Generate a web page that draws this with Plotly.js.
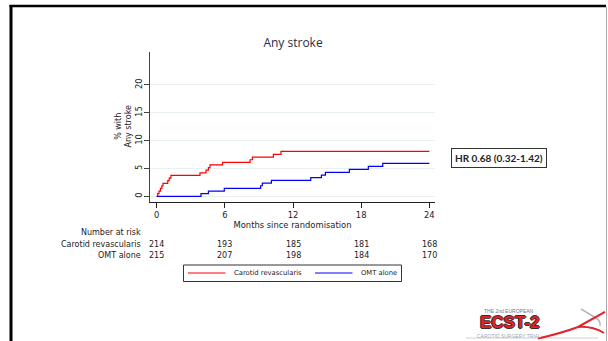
<!DOCTYPE html>
<html>
<head>
<meta charset="utf-8">
<script src="https://cdn.plot.ly/plotly-3.0.1.min.js"></script>
<style>
html,body{margin:0;padding:0;background:#fff;}
#chart{width:608px;height:341px;}
</style>
</head>
<body>
<div id="chart"></div>
<script>
// ---- data ----
const seriesNames = ["Carotid revascularis", "OMT alone"];
const seriesColors = ["#ff0000", "#0000ff"];
const revascTimes  = [0, 0.09, 0.2, 0.33, 0.45, 0.55, 0.97, 1.1, 1.25, 3.81, 4.34, 4.55, 4.69, 5.8, 8.22, 8.42, 10.27, 10.94, 24];
const revascValues = [0, 0.47, 0.94, 1.41, 1.88, 2.34, 2.81, 3.28, 3.75, 4.22, 4.69, 5.16, 5.63, 6.1, 6.57, 7.04, 7.55, 8.07, 8.07];
const omtTimes  = [0, 3.9, 4.55, 5.95, 9.15, 9.3, 10.1, 13.56, 14.5, 14.85, 16.96, 18.63, 19.9, 24];
const omtValues = [0, 0.47, 0.94, 1.42, 1.9, 2.38, 2.86, 3.34, 3.82, 4.3, 4.84, 5.38, 5.93, 5.93];
const xTicks = [0, 6, 12, 18, 24];
const yTicks = [0, 5, 10, 15, 20];
const riskTimes = [0, 6, 12, 18, 24];
const revascAtRisk = [214, 193, 185, 181, 168];
const omtAtRisk = [215, 207, 198, 184, 170];
const hrText = "HR 0.68 (0.32-1.42)";

// ---- layout helpers (pixel -> paper) ----
const W = 608, H = 341, L = 150, R = 173, T = 52, B = 139;
const pw = W - L - R, ph = H - T - B;
const px = x => (x - L) / pw;
const py = y => (H - B - y) / ph;
const P = (x, y) => px(x).toFixed(4) + "," + py(y).toFixed(4);

const FONT = "DejaVu Sans, sans-serif";

const traces = [
  {x: revascTimes, y: revascValues, name: seriesNames[0], type: "scatter", mode: "lines",
   line: {color: seriesColors[0], width: 1.2, shape: "hv"}, showlegend: false},
  {x: omtTimes, y: omtValues, name: seriesNames[1], type: "scatter", mode: "lines",
   line: {color: seriesColors[1], width: 1.2, shape: "hv"}, showlegend: false}
];

const annotations = [];
// y-axis title (two lines, rotated)
annotations.push({xref: "paper", yref: "paper", x: px(122.5), y: 0.5, xanchor: "center", yanchor: "middle", textangle: -90,
  text: "% with<br>Any stroke", showarrow: false, font: {family: FONT, size: 8, color: "#222"}});
annotations.push({xref: "paper", yref: "paper", x: px(142.5), y: py(233), xanchor: "right", yanchor: "middle",
  text: "Number at risk", showarrow: false, font: {family: FONT, size: 8, color: "#222"}});
annotations.push({xref: "paper", yref: "paper", x: px(142.5), y: py(244.5), xanchor: "right", yanchor: "middle",
  text: seriesNames[0], showarrow: false, font: {family: FONT, size: 8, color: "#222"}});
annotations.push({xref: "paper", yref: "paper", x: px(142.5), y: py(256), xanchor: "right", yanchor: "middle",
  text: seriesNames[1], showarrow: false, font: {family: FONT, size: 8, color: "#222"}});
riskTimes.forEach((t, i) => {
  annotations.push({xref: "x", yref: "paper", x: t, y: py(244.5), xanchor: "center", yanchor: "middle",
    text: String(revascAtRisk[i]), showarrow: false, font: {family: FONT, size: 8, color: "#222"}});
  annotations.push({xref: "x", yref: "paper", x: t, y: py(256), xanchor: "center", yanchor: "middle",
    text: String(omtAtRisk[i]), showarrow: false, font: {family: FONT, size: 8, color: "#222"}});
});
// legend texts
annotations.push({xref: "paper", yref: "paper", x: px(231.5), y: py(273.2), xanchor: "left", yanchor: "middle",
  text: seriesNames[0], showarrow: false, font: {family: FONT, size: 6.8, color: "#222"}});
annotations.push({xref: "paper", yref: "paper", x: px(358.5), y: py(273.2), xanchor: "left", yanchor: "middle",
  text: seriesNames[1], showarrow: false, font: {family: FONT, size: 6.8, color: "#222"}});
// HR box
annotations.push({xref: "paper", yref: "paper", x: px(498.5), y: py(158), xanchor: "center", yanchor: "middle",
  text: hrText, showarrow: false, bordercolor: "#333", borderwidth: 1, borderpad: 3, bgcolor: "#fff",
  font: {family: "Lato, sans-serif", size: 10, color: "#222", weight: "bold"}});
// logo texts
annotations.push({xref: "paper", yref: "paper", x: px(509), y: py(310.5), xanchor: "center", yanchor: "middle",
  text: "THE 2nd EUROPEAN", showarrow: false, font: {family: "Liberation Sans, sans-serif", size: 5, color: "#6a7898"}});
annotations.push({xref: "paper", yref: "paper", x: px(509.5), y: py(322.5), xanchor: "center", yanchor: "middle",
  text: "ECST-2", showarrow: false,
  font: {family: "Liberation Sans, sans-serif", size: 17, color: "#e3222b", weight: "bold",
         shadow: "1px 0 0 #3a2a2a, -1px 0 0 #3a2a2a, 0 1px 0 #3a2a2a, 0 -1px 0 #3a2a2a"}});
annotations.push({xref: "paper", yref: "paper", x: px(509), y: py(335.5), xanchor: "center", yanchor: "middle",
  text: "CAROTID SURGERY TRIAL", showarrow: false, font: {family: "Liberation Sans, sans-serif", size: 5, color: "#a0a8b8"}});

const shapes = [
  // frame
  {type: "line", xref: "paper", yref: "paper", x0: px(11), x1: px(11), y0: py(5), y1: py(341), line: {color: "#000", width: 3}},
  {type: "line", xref: "paper", yref: "paper", x0: px(9.5), x1: px(606), y0: py(6), y1: py(6), line: {color: "#000", width: 2.5}},
  {type: "line", xref: "paper", yref: "paper", x0: px(606.5), x1: px(606.5), y0: py(7), y1: py(341), line: {color: "#aaa", width: 1}},
  // legend frame and keys
  {type: "rect", xref: "paper", yref: "paper", x0: px(183.5), x1: px(401.5), y0: py(265), y1: py(281.5),
   line: {color: "#333", width: 1}, fillcolor: "rgba(255,255,255,0)"},
  {type: "line", xref: "paper", yref: "paper", x0: px(188), x1: px(225.5), y0: py(273), y1: py(273),
   line: {color: seriesColors[0], width: 1.2}},
  {type: "line", xref: "paper", yref: "paper", x0: px(315), x1: px(352.5), y0: py(273), y1: py(273),
   line: {color: seriesColors[1], width: 1.2}},
  // logo graphics
  {type: "line", xref: "paper", yref: "paper", x0: px(466), x1: px(598), y0: py(338), y1: py(338), line: {color: "#cfcfcf", width: 1}},
  {type: "path", xref: "paper", yref: "paper", path: "M" + P(581, 309) + " L" + P(596, 318) + " Q" + P(601, 321) + " " + P(600, 326),
   line: {color: "#b8b8b8", width: 1.5}},
  {type: "path", xref: "paper", yref: "paper", path: "M" + P(538, 338.5) + " Q" + P(562, 333) + " " + P(578, 327) + " L" + P(605, 312),
   line: {color: "#e3222b", width: 2}},
  {type: "path", xref: "paper", yref: "paper", path: "M" + P(578, 327) + " Q" + P(592, 326) + " " + P(604, 333),
   line: {color: "#e3222b", width: 2}}
];

const layout = {
  width: W, height: H,
  margin: {l: L, r: R, t: T, b: B, pad: 0},
  paper_bgcolor: "#fff", plot_bgcolor: "#fff",
  font: {family: FONT, size: 8.4, color: "#222"},
  title: {text: "Any stroke", x: 0.482, xref: "container", y: 1 - 42.5 / H, yref: "container", yanchor: "middle", xanchor: "center",
          font: {family: "Open Sans, sans-serif", size: 12, color: "#1f2d4f"}},
  xaxis: {range: [-0.59, 24.5], tickvals: xTicks, ticktext: xTicks.map(String), showgrid: false, zeroline: false,
          showline: true, linecolor: "#222", linewidth: 1.2, ticks: "outside", ticklen: 5, tickcolor: "#222", tickwidth: 1,
          tickfont: {family: FONT, size: 8.4, color: "#222"},
          title: {text: "Months since randomisation", standoff: 0, font: {family: FONT, size: 8.4, color: "#222"}},
          automargin: true, fixedrange: true},
  yaxis: {range: [-1.02, 25.92], tickvals: yTicks, ticktext: yTicks.map(String), tickangle: -90, ticklabelstandoff: -2,
          showgrid: true, gridcolor: "#e8f0f0", gridwidth: 1, zeroline: false,
          showline: true, linecolor: "#444", linewidth: 1.2, ticks: "outside", ticklen: 5, tickcolor: "#444", tickwidth: 1,
          tickfont: {family: FONT, size: 8.4, color: "#222"},
          automargin: true, fixedrange: true},
  showlegend: false,
  annotations: annotations,
  shapes: shapes
};

Plotly.newPlot("chart", traces, layout, {displayModeBar: false, staticPlot: true});
</script>
</body>
</html>
